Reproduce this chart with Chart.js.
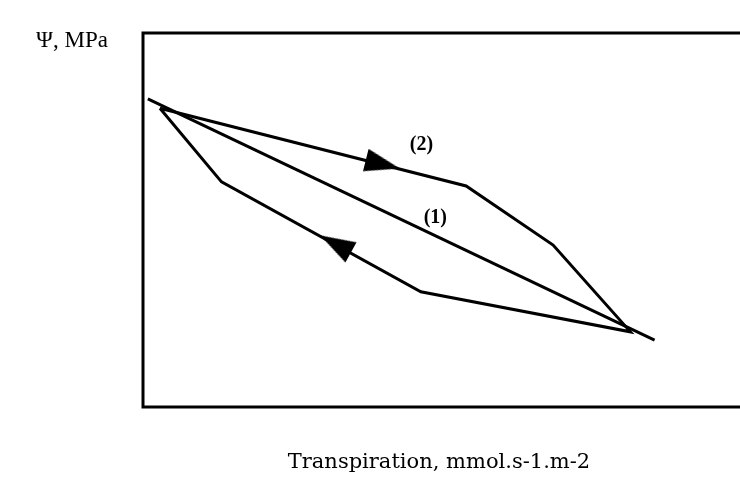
<!DOCTYPE html>
<html>
<head>
<meta charset="utf-8">
<script src="https://cdn.jsdelivr.net/npm/chart.js@4/dist/chart.umd.min.js"></script>
<style>
  html, body { margin: 0; padding: 0; background: #fff; overflow: hidden; }
  #wrap { position: relative; width: 740px; height: 503px; overflow: hidden; }
  #box { position: absolute; left: 0; top: 0; width: 760px; height: 503px; }
</style>
</head>
<body>
<div id="wrap"><div id="box"><canvas id="c"></canvas></div></div>
<script>
// ---- data (arbitrary units: x = transpiration, y = water potential) ----
const line1X = [0.8, 84.7];
const line1Y = [82.4, 17.9];

const loopX = [2.8, 53.5, 67.9, 80.7, 46.0, 13.0, 2.8];
const loopY = [79.9, 59.1, 43.3, 20.1, 30.8, 60.2, 79.9];

const arrowX = [39.7, 31.9];
const arrowY = [64.9, 43.6];
const arrowAngle = [14, 209];

const curveLabels = ['(2)', '(1)'];
const curveLabelX = [46.1, 48.4];
const curveLabelY = [70.1, 50.5];

const yTitle = 'Ψ, MPa';
const xTitle = 'Transpiration, mmol.s-1.m-2';

// ---- arrow head image ----
function arrowImage() {
  const cv = document.createElement('canvas');
  cv.width = 35; cv.height = 23;
  const g = cv.getContext('2d');
  g.fillStyle = '#000';
  g.beginPath();
  g.moveTo(0, 0); g.lineTo(35, 11.5); g.lineTo(0, 23); g.closePath();
  g.fill();
  return cv;
}
const arrowImg = arrowImage();

const toPts = (xs, ys) => xs.map((x, i) => ({ x: x, y: ys[i] }));

const framePlugin = {
  id: 'frameAndText',
  afterDatasetsDraw(chart) {
    const { ctx, chartArea: a, scales } = chart;
    ctx.save();
    ctx.strokeStyle = '#000';
    ctx.lineWidth = 3;
    ctx.strokeRect(a.left, a.top, a.right - a.left, a.bottom - a.top);
    ctx.fillStyle = '#000';
    ctx.textAlign = 'center';
    ctx.textBaseline = 'middle';
    ctx.font = 'bold 20px "Liberation Serif", serif';
    curveLabels.forEach((t, i) => {
      ctx.fillText(t, scales.x.getPixelForValue(curveLabelX[i]), scales.y.getPixelForValue(curveLabelY[i]));
    });
    ctx.font = '23px "Liberation Serif", serif';
    ctx.textAlign = 'left';
    ctx.textBaseline = 'alphabetic';
    ctx.fillText(yTitle, 36, 47);
    ctx.font = '21px "DejaVu Serif", serif';
    ctx.textAlign = 'center';
    ctx.fillText(xTitle, 439, 468);
    ctx.restore();
  }
};

new Chart(document.getElementById('c'), {
  type: 'scatter',
  data: {
    datasets: [
      { data: toPts(line1X, line1Y), showLine: true, borderColor: '#000', borderWidth: 3, pointRadius: 0, fill: false },
      { data: toPts(loopX, loopY), showLine: true, borderColor: '#000', borderWidth: 3, pointRadius: 0, fill: false, borderJoinStyle: 'miter' },
      { data: toPts(arrowX, arrowY), showLine: false, pointStyle: arrowImg, pointRotation: arrowAngle, pointRadius: 12, backgroundColor: '#000', borderColor: '#000' }
    ]
  },
  options: {
    responsive: true,
    maintainAspectRatio: false,
    animation: false,
    events: [],
    layout: { padding: { left: 143, top: 33, right: 10, bottom: 96 } },
    plugins: { legend: { display: false }, tooltip: { enabled: false } },
    scales: {
      x: { type: 'linear', display: false, min: 0, max: 100 },
      y: { type: 'linear', display: false, min: 0, max: 100 }
    }
  },
  plugins: [framePlugin]
});
</script>
</body>
</html>
